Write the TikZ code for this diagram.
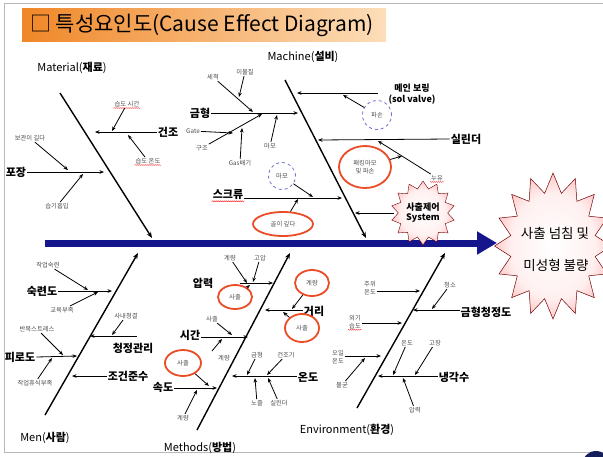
\documentclass[tikz,border=0pt]{standalone}
\usepackage{fontspec}
\setmainfont{Noto Sans CJK KR}
\usetikzlibrary{arrows.meta,shapes.geometric,decorations.pathmorphing}
\definecolor{spinec}{RGB}{22,22,140}
\definecolor{ellred}{RGB}{234,76,38}
\definecolor{dashblue}{RGB}{110,110,205}
\definecolor{ttlA}{RGB}{240,135,40}
\definecolor{ttlB}{RGB}{252,222,185}
\definecolor{navyc}{RGB}{20,30,90}
\pgfdeclareradialshading{effsh}{\pgfpoint{0bp}{0bp}}{color(0bp)=(white); color(18bp)=(red!6); color(34bp)=(red!40); color(50bp)=(red!85)}
\tikzset{
  arr/.style={-{Stealth[length=4.5pt,width=3.6pt]}, line width=0.8pt},
  bone/.style={-{Stealth[length=6pt,width=4.8pt]}, line width=1.4pt},
  mainl/.style={font=\bfseries\fontsize{11}{12}\selectfont, inner sep=1pt},
  subt/.style={font=\fontsize{6.3}{7.5}\selectfont, text=black!70, inner sep=1pt, align=center},
  catl/.style={font=\fontsize{11}{12}\selectfont, inner sep=1pt},
  rell/.style={ellipse, draw=ellred, line width=1.8pt, inner sep=0pt, align=center,
    font=\fontsize{6.3}{8}\selectfont, text=black!70},
  dcirc/.style={circle, draw=dashblue, dashed, line width=0.8pt, minimum size=27pt, inner sep=0pt,
    font=\fontsize{6.3}{7}\selectfont, text=black!70},
  wavy/.style={draw=red!80, decorate, decoration={snake, amplitude=0.5pt, segment length=2pt}, line width=0.4pt}
}
\begin{document}
\begin{tikzpicture}[x=1pt,y=-1pt]
\useasboundingbox (0,0) rectangle (603,456);
% frame
\coordinate (f1) at (4,3); \coordinate (f2) at (4,452);
\coordinate (f3) at (603,452); \coordinate (f4) at (603,3);
\draw[gray!55, line width=0.8pt] (f4) -- (f1) -- (f2) -- (f3);
\fill[navyc] (596,465) circle (14pt);
% title
\node[minimum width=364pt, minimum height=33pt, left color=ttlA, right color=ttlB, inner sep=0pt] (ttlbox) at (204,24.5) {};
\node[anchor=west, font=\fontsize{21}{21}\selectfont, inner sep=0pt] (ttl) at (30,25) {□ 특성요인도(Cause Effect Diagram)};

% spine
\coordinate (sp0) at (45,243); \coordinate (sp1) at (497,243);
\draw[line width=7pt, spinec, -{Triangle[length=20pt,width=22pt]}] (sp0) -- (sp1);

% effect
\node[star, star points=16, star point ratio=1.36, minimum size=146pt, inner sep=0pt,
  shading=effsh, draw=red!45!black, line width=0.5pt, xscale=0.8, transform shape] (eff) at (553,246) {};
\node[font=\fontsize{13.5}{14}\selectfont, inner sep=0pt] (eff1) at (555,233) {사출 넘침 및};
\node[font=\fontsize{13.5}{14}\selectfont, inner sep=0pt] (eff2) at (556,265) {미성형 불량};

%================ Material
\node[catl] (matl) at (72,68) {Material(\textbf{재료})};
\coordinate (Ma) at (60,93); \coordinate (Mb) at (152,238);
\draw[bone] (Ma) -- (Mb);
\node[mainl] (gj) at (168,132) {건조};
\coordinate (gjt) at (95,132);
\draw[arr] (gj.west) -- (gjt);
\node[subt] (m1) at (127,104) {습도 시간};
\coordinate (m1t) at (112,131);
\draw[arr] (m1) -- (m1t);
\draw[wavy] (m1.south west) -- (m1.south east);
\node[subt] (m2) at (148,161) {습도 온도};
\coordinate (m2t) at (128,135);
\draw[arr] (m2) -- (m2t);
\draw[wavy] (m2.south west) -- (m2.south east);
\node[mainl] (pj) at (16,172) {포장};
\coordinate (pjt) at (104,172);
\draw[arr] (pj.east) -- (pjt);
\node[subt] (m3) at (30,138) {보관이 길다};
\coordinate (m3t) at (68,170);
\draw[arr] (m3) -- (m3t);
\node[subt] (m4) at (57,206) {습기흡입};
\coordinate (m4t) at (83,174);
\draw[arr] (m4) -- (m4t);

%================ Machine
\node[catl] (mach) at (303,57) {Machine(\textbf{설비})};
\coordinate (Ka) at (285,80); \coordinate (Kb) at (366,238);
\draw[bone] (Ka) -- (Kb);
\node[mainl] (gh) at (200,113) {금형};
\coordinate (ght) at (298,113);
\draw[arr] (gh.east) -- (ght);
\node[subt] (s1) at (213,77) {세척};
\coordinate (s1t) at (253,112);
\draw[arr] (s1) -- (s1t);
\node[subt] (s2) at (245,72) {이물질};
\coordinate (s2t) at (239,97);
\draw[arr] (s2) -- (s2t);
\node[subt] (s4) at (202,148) {구조};
\coordinate (s4t) at (262,114);
\draw[arr] (s4) -- (s4t);
\node[subt] (s3) at (193,131) {Gate};
\coordinate (s3t) at (233,133);
\draw[arr] (s3) -- (s3t);
\node[subt] (s5) at (240,163) {Gas배기};
\coordinate (s5t) at (242,128);
\draw[arr] (s5) -- (s5t);
\node[subt] (s6) at (270,146) {마모};
\coordinate (s6t) at (277,115);
\draw[arr] (s6) -- (s6t);
\node[mainl] (sk) at (228,195) {스크류};
\coordinate (skt) at (342,198);
\draw[arr] (sk.east |- skt) -- (skt);
\draw[wavy] (sk.south west) -- (sk.south east);
\node[dcirc] (dc1) at (282,176) {마모};
\coordinate (dc1t) at (313,197);
\draw[arr] (dc1) -- (dc1t);
\node[rell, minimum width=60pt, minimum height=24pt] (re1) at (283,224) {골이 깊다};
\coordinate (re1t) at (298,199);
\draw[arr] (re1) -- (re1t);
\node[mainl, font=\bfseries\fontsize{9}{10.5}\selectfont, align=center] (mb) at (412,94) {메인 보링\\(sol valve)};
\coordinate (mbt) at (297,93);
\coordinate (mbs) at (378,93);
\draw[arr] (mbs) -- (mbt);
\node[dcirc, minimum size=29pt] (dc2) at (377,115) {파손};
\coordinate (dc2t) at (343,95);
\draw[arr] (dc2) -- (dc2t);
\node[mainl] (sl) at (466,139) {실린더};
\coordinate (slt) at (318,140);
\draw[arr] (sl.west) -- (slt);
\node[rell, minimum width=52pt, minimum height=42pt] (re2) at (365,167) {패킹마모\\및 파손};
\node[subt] (ny) at (437,178) {누유};
\draw[wavy] (ny.south west) -- (ny.south east);
\coordinate (nyt) at (378,141);
\draw[arr] (ny) -- (nyt);
\coordinate (re2t) at (402,156);
\draw[arr] (re2) -- (re2t);
\node[star, star points=14, star point ratio=1.3, minimum size=64pt, inner sep=0pt,
  shading=effsh, draw=red!45!black, line width=0.4pt] (sc) at (423,213) {};
\node[font=\bfseries\fontsize{9}{10}\selectfont, align=center, inner sep=0pt] (sct) at (423,213) {사출제어\\System};
\coordinate (sct2) at (355,213);
\coordinate (scs) at (394,213);
\draw[arr] (scs) -- (sct2);

%================ Men
\node[catl] (menl) at (45,438) {Men(\textbf{사람})};
\coordinate (Na) at (45,415); \coordinate (Nb) at (138,253);
\draw[bone] (Na) -- (Nb);
\node[mainl] (sr) at (42,291) {숙련도};
\coordinate (srt) at (112,291);
\draw[arr] (sr.east) -- (srt);
\node[subt] (n1) at (48,265) {작업숙련};
\coordinate (n1t) at (88,290);
\draw[arr] (n1) -- (n1t);
\node[subt] (n2) at (62,310) {교육부족};
\coordinate (n2t) at (98,292);
\draw[arr] (n2) -- (n2t);
\node[mainl] (cj) at (133,348) {청정관리};
\coordinate (cjs) at (137,336); \coordinate (cjt) at (90,336);
\draw[arr] (cjs) -- (cjt);
\node[subt] (n3) at (126,316) {사내청결};
\coordinate (n3t) at (112,335);
\draw[arr] (n3) -- (n3t);
\node[mainl] (pr) at (20,357) {피로도};
\coordinate (prt) at (77,356);
\draw[arr] (pr.east) -- (prt);
\node[subt] (n4) at (37,329) {반복스트레스};
\coordinate (n4t) at (63,355);
\draw[arr] (n4) -- (n4t);
\node[subt] (n5) at (35,383) {작업휴식부족};
\coordinate (n5t) at (52,358);
\draw[arr] (n5) -- (n5t);
\node[mainl] (jg) at (128,376) {조건준수};
\coordinate (jgt) at (72,376);
\draw[arr] (jg.west) -- (jgt);

%================ Methods
\node[catl] (meth) at (200,448) {Methods(\textbf{방법})};
\coordinate (Pa) at (197,430); \coordinate (Pb) at (290,253);
\draw[bone] (Pa) -- (Pb);
\node[mainl] (ap) at (203,283) {압력};
\coordinate (aps) at (240,283); \coordinate (apt) at (273,283);
\draw[arr] (aps) -- (apt);
\node[subt] (k1) at (230,258) {계량};
\coordinate (k1t) at (247,283);
\draw[arr] (k1) -- (k1t);
\node[subt] (k2) at (260,258) {고압};
\coordinate (k2t) at (253,282);
\draw[arr] (k2) -- (k2t);
\node[rell, minimum width=34pt, minimum height=24pt] (re3) at (235,297) {사출};
\coordinate (re3t) at (250,285);
\draw[arr] (re3) -- (re3t);
\node[mainl] (sg) at (190,335) {시간};
\coordinate (sgt) at (248,337);
\draw[arr] (sg.east |- sgt) -- (sgt);
\node[subt] (k3) at (212,319) {사출};
\coordinate (k3t) at (232,335);
\draw[arr] (k3) -- (k3t);
\node[subt] (k4) at (224,358) {계량};
\coordinate (k4s) at (212,351); \coordinate (k4t) at (222,339);
\draw[arr] (k4s) -- (k4t);
\node[rell, minimum width=36pt, minimum height=26pt] (re4) at (183,363) {사출};
\coordinate (re4t) at (209,386);
\draw[arr] (re4) -- (re4t);
\node[mainl] (sd) at (163,387) {속도};
\coordinate (sdt) at (217,388);
\draw[arr] (sd.east |- sdt) -- (sdt);
\node[subt] (k5) at (183,418) {계량};
\coordinate (k5t) at (197,390);
\draw[arr] (k5) -- (k5t);
\node[mainl] (gr) at (314,311) {거리};
\coordinate (grt) at (265,310);
\draw[arr] (gr.west |- grt) -- (grt);
\node[rell, minimum width=34pt, minimum height=26pt] (re5) at (312,283) {계량};
\coordinate (re5t) at (292,309);
\draw[arr] (re5) -- (re5t);
\node[rell, minimum width=34pt, minimum height=28pt] (re6) at (302,328) {사출};
\coordinate (re6t) at (283,312);
\draw[arr] (re6) -- (re6t);
\node[mainl] (od) at (308,377) {온도};
\coordinate (odt) at (232,376);
\draw[arr] (od.west |- odt) -- (odt);
\node[subt] (k6) at (257,355) {금형};
\coordinate (k6t) at (247,375);
\draw[arr] (k6) -- (k6t);
\node[subt] (k7) at (286,355) {건조기};
\coordinate (k7t) at (267,375);
\draw[arr] (k7) -- (k7t);
\node[subt] (k8) at (257,403) {노즐};
\coordinate (k8t) at (255,378);
\draw[arr] (k8) -- (k8t);
\node[subt] (k9) at (279,403) {실린더};
\coordinate (k9t) at (268,378);
\draw[arr] (k9) -- (k9t);

%================ Environment
\node[catl] (envl) at (347,430) {Environment(\textbf{환경})};
\coordinate (Ea) at (357,408); \coordinate (Eb) at (445,253);
\draw[bone] (Ea) -- (Eb);
\node[mainl] (gc) at (486,312) {금형청정도};
\coordinate (gct) at (413,310);
\draw[arr] (gc.west |- gct) -- (gct);
\node[subt] (e1) at (450,285) {청소};
\coordinate (e1t) at (432,309);
\draw[arr] (e1) -- (e1t);
\node[subt] (e2) at (370,288) {주위\\온도};
\coordinate (e2t) at (420,291);
\draw[arr] (e2.east |- e2t) -- (e2t);
\node[subt] (e3) at (355,322) {외기\\습도};
\draw[wavy] (e3.south west) -- (e3.south east);
\coordinate (e3t) at (402,323);
\draw[arr] (e3.east |- e3t) -- (e3t);
\node[subt] (e4) at (338,357) {오일\\온도};
\coordinate (e4t) at (381,356);
\draw[arr] (e4.east |- e4t) -- (e4t);
\node[subt] (e5) at (342,385) {불균};
\coordinate (e5t) at (365,358);
\draw[arr] (e5) -- (e5t);
\node[mainl] (ng) at (454,377) {냉각수};
\coordinate (ngt) at (378,376);
\draw[arr] (ng.west |- ngt) -- (ngt);
\node[subt] (e6) at (407,343) {온도};
\coordinate (e6t) at (393,375);
\draw[arr] (e6) -- (e6t);
\node[subt] (e7) at (435,343) {고장};
\coordinate (e7t) at (415,375);
\draw[arr] (e7) -- (e7t);
\node[subt] (e8) at (415,410) {압력};
\coordinate (e8t) at (403,378);
\draw[arr] (e8) -- (e8t);
\end{tikzpicture}
\end{document}
